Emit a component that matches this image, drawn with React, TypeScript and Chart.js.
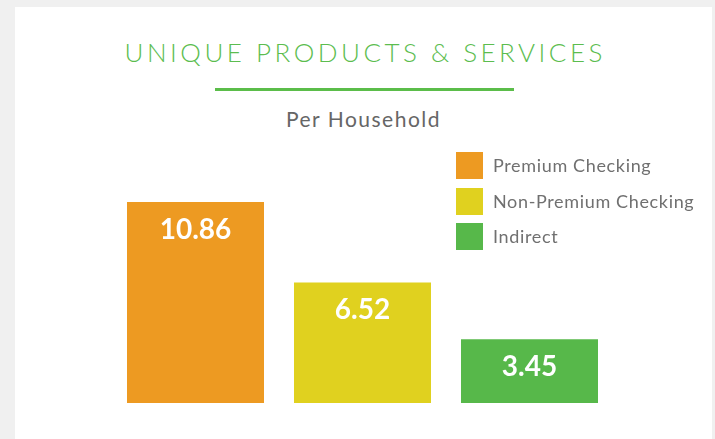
import { useEffect, useRef } from "react";
import { Chart, registerables } from "chart.js";

Chart.register(...registerables);

const categories = ["Per Household"];
const seriesNames = ["Premium Checking", "Non-Premium Checking", "Indirect"];
const seriesValues = [10.86, 6.52, 3.45];
const seriesColors = ["#ED9A22", "#E0D11F", "#57B84A"];
const titleText = "UNIQUE PRODUCTS & SERVICES";
const subtitleText = "Per Household";

const FONT = "Lato, 'Open Sans', sans-serif";

const valueLabels = {
  id: "valueLabels",
  afterDatasetsDraw(chart: any) {
    const ctx = chart.ctx;
    ctx.save();
    ctx.fillStyle = "#ffffff";
    ctx.font = "bold 28px Lato";
    ctx.textAlign = "center";
    ctx.textBaseline = "alphabetic";
    chart.data.datasets.forEach((ds: any, i: number) => {
      chart.getDatasetMeta(i).data.forEach((el: any, j: number) => {
        ctx.fillText(Number(ds.data[j]).toFixed(2), el.x, el.y + 37);
      });
    });
    ctx.restore();
  },
};

export default function App() {
  const ref = useRef<HTMLCanvasElement>(null);

  useEffect(() => {
    if (!ref.current) return;
    const chart = new Chart(ref.current, {
      type: "bar",
      data: {
        labels: categories,
        datasets: seriesNames.map((name, i) => ({
          label: name,
          data: [seriesValues[i]],
          backgroundColor: seriesColors[i],
          borderWidth: 0,
          barPercentage: 0.8204,
          categoryPercentage: 1,
        })),
      },
      options: {
        responsive: false,
        maintainAspectRatio: false,
        devicePixelRatio: 1,
        animation: false,
        layout: { padding: 0 },
        plugins: {
          legend: { display: false },
          tooltip: { enabled: false },
          title: { display: false },
        },
        scales: {
          x: { display: false },
          y: { display: false, min: 0, max: 12 },
        },
      },
      plugins: [valueLabels],
    });
    return () => chart.destroy();
  }, []);

  return (
    <div
      style={{
        position: "fixed",
        left: 0,
        top: 0,
        width: 715,
        height: 439,
        background: "#f0f0f0",
        overflow: "hidden",
        fontFamily: FONT,
      }}
    >
      <div
        style={{
          position: "absolute",
          left: 15,
          top: 7,
          width: 697,
          height: 440,
          background: "#ffffff",
        }}
      />
      <div
        style={{
          position: "absolute",
          left: 15,
          width: 697,
          top: 39,
          fontSize: 26,
          fontWeight: 300,
          lineHeight: "26px",
          textAlign: "center",
          color: "#5CBD4F",
          letterSpacing: "3.5px",
          paddingLeft: "3.5px",
          boxSizing: "border-box",
          whiteSpace: "nowrap",
        }}
      >
        {titleText}
      </div>
      <div
        style={{
          position: "absolute",
          left: 215,
          top: 88,
          width: 299,
          height: 3,
          background: "#5BBD4A",
        }}
      />
      <div
        style={{
          position: "absolute",
          left: 15,
          width: 697,
          top: 108,
          fontSize: 21,
          lineHeight: "21px",
          textAlign: "center",
          color: "#666666",
          letterSpacing: "1.5px",
          whiteSpace: "nowrap",
        }}
      >
        {subtitleText}
      </div>
      <canvas
        ref={ref}
        width={501}
        height={222}
        style={{ position: "absolute", left: 112, top: 181, width: 501, height: 222 }}
      />
      <div style={{ position: "absolute", left: 456, top: 152 }}>
        {seriesNames.map((name, i) => (
          <div
            key={name}
            style={{ display: "flex", alignItems: "center", height: 27, marginBottom: 8.5 }}
          >
            <div style={{ width: 27, height: 27, background: seriesColors[i] }} />
            <div
              style={{
                marginLeft: 10,
                fontSize: 18,
                lineHeight: "27px",
                color: "#707070",
                letterSpacing: "0.65px",
                whiteSpace: "nowrap",
              }}
            >
              {name}
            </div>
          </div>
        ))}
      </div>
    </div>
  );
}
